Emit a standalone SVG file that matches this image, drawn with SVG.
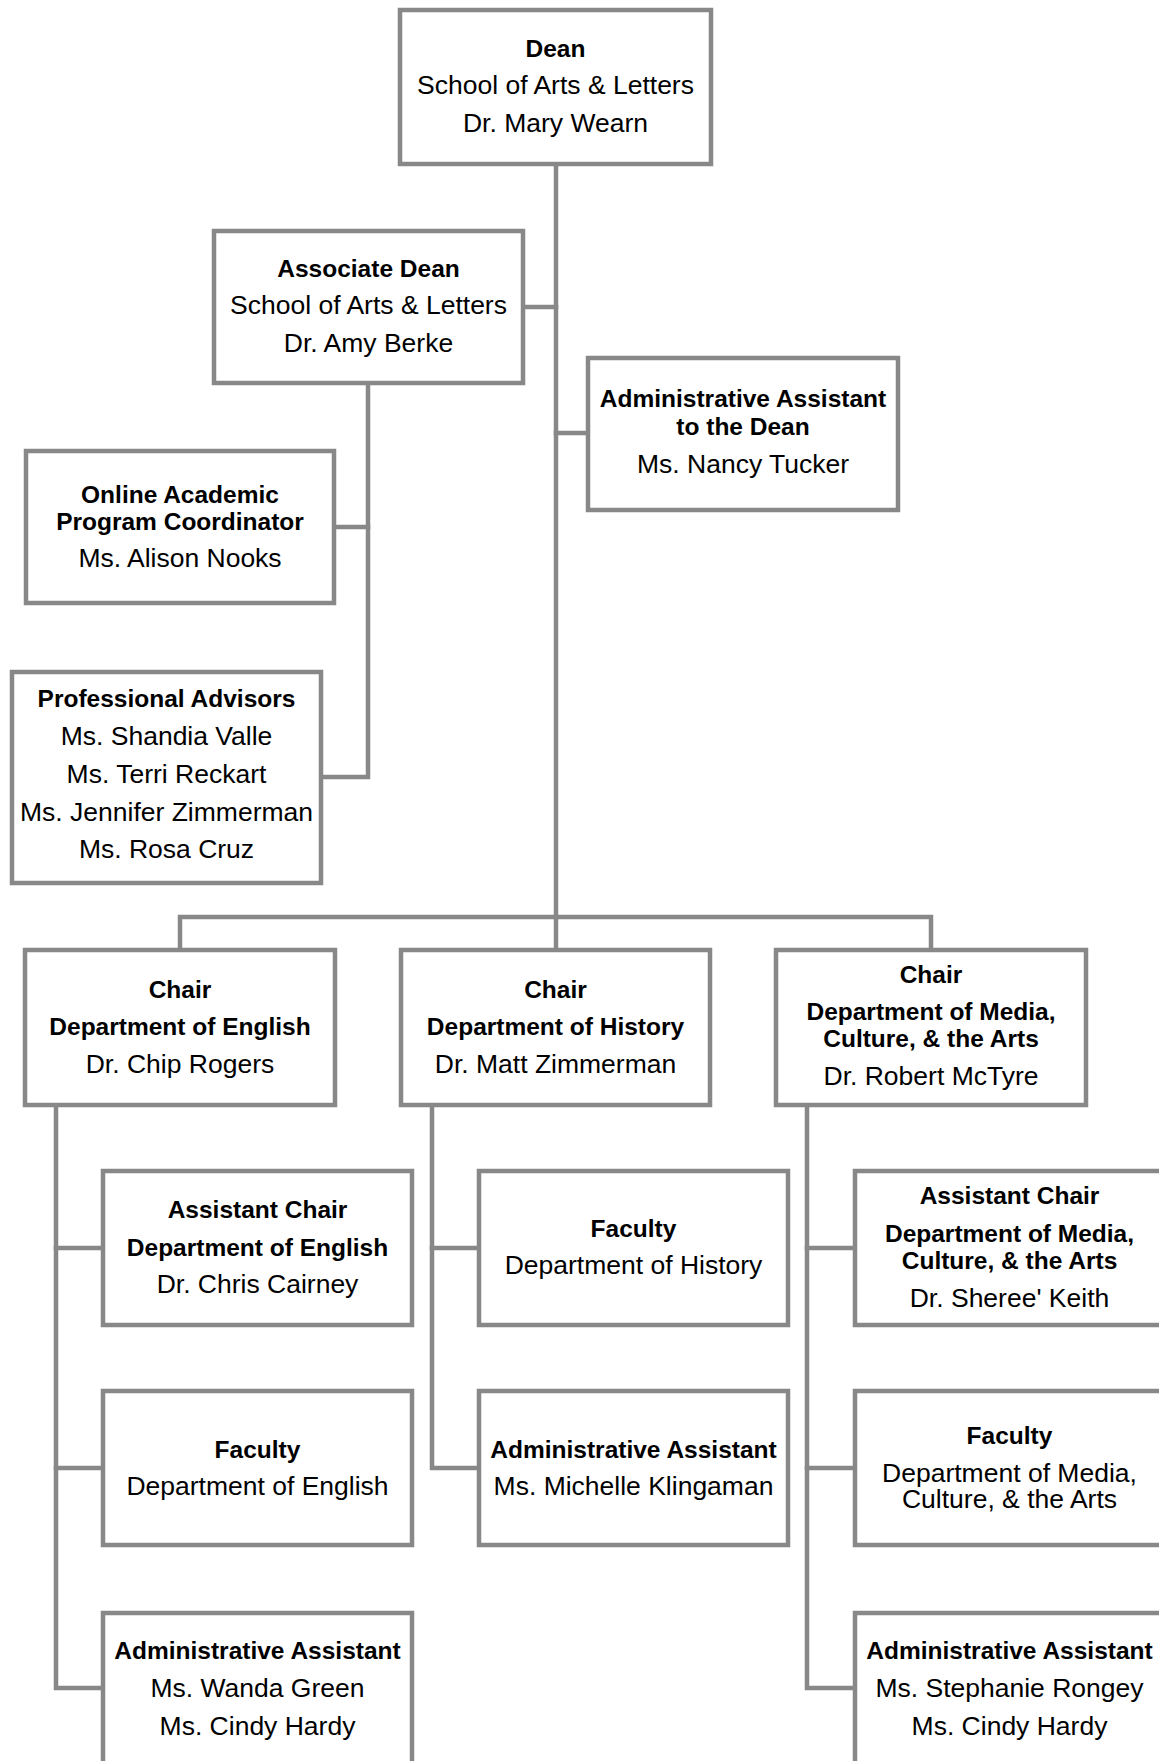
<svg xmlns="http://www.w3.org/2000/svg" width="1159" height="1761" viewBox="0 0 1159 1761">
<style>
.box{fill:#fff;stroke:#888;stroke-width:4.5}
.con{fill:none;stroke:#888;stroke-width:4.5;stroke-linejoin:miter;stroke-linecap:square}
text{font-family:"Liberation Sans",Arial,sans-serif;fill:#000;text-anchor:middle}
.b{font-weight:bold;font-size:24.5px}
.n{font-size:26.5px}
</style>
<rect width="1159" height="1761" fill="#fff"/>
<g id="connectors">
<path class="con" d="M556 166V917"/>
<path class="con" d="M525 307H556"/>
<path class="con" d="M556 433H586"/>
<path class="con" d="M368 385V777H323"/>
<path class="con" d="M336 527H368"/>
<path class="con" d="M180 948V917H931V948"/>
<path class="con" d="M556 917V948"/>
<path class="con" d="M56 1107V1688H101"/>
<path class="con" d="M56 1248H101M56 1468H101"/>
<path class="con" d="M432 1107V1468H477"/>
<path class="con" d="M432 1248H477"/>
<path class="con" d="M807 1107V1688H853"/>
<path class="con" d="M807 1248H853M807 1468H853"/>
</g>
<g id="dean">
<rect class="box" x="400" y="10" width="311" height="154"/>
<text x="555.5" y="57" class="b">Dean</text>
<text x="555.5" y="94" class="n">School of Arts &amp; Letters</text>
<text x="555.5" y="132" class="n">Dr. Mary Wearn</text>
</g>
<g id="assoc-dean">
<rect class="box" x="214" y="231" width="309" height="152"/>
<text x="368.5" y="277" class="b">Associate Dean</text>
<text x="368.5" y="314" class="n">School of Arts &amp; Letters</text>
<text x="368.5" y="352" class="n">Dr. Amy Berke</text>
</g>
<g id="admin-dean">
<rect class="box" x="588" y="358" width="310" height="152"/>
<text x="743" y="407" class="b">Administrative Assistant</text>
<text x="743" y="435" class="b">to the Dean</text>
<text x="743" y="473" class="n">Ms. Nancy Tucker</text>
</g>
<g id="online">
<rect class="box" x="26" y="451" width="308" height="152"/>
<text x="180" y="503" class="b">Online Academic</text>
<text x="180" y="530" class="b">Program Coordinator</text>
<text x="180" y="567" class="n">Ms. Alison Nooks</text>
</g>
<g id="advisors">
<rect class="box" x="12" y="672" width="309" height="211"/>
<text x="166.5" y="707" class="b">Professional Advisors</text>
<text x="166.5" y="745" class="n">Ms. Shandia Valle</text>
<text x="166.5" y="783" class="n">Ms. Terri Reckart</text>
<text x="166.5" y="821" class="n">Ms. Jennifer Zimmerman</text>
<text x="166.5" y="858" class="n">Ms. Rosa Cruz</text>
</g>
<g id="chair-english">
<rect class="box" x="25" y="950" width="310" height="155"/>
<text x="180" y="998" class="b">Chair</text>
<text x="180" y="1035" class="b">Department of English</text>
<text x="180" y="1073" class="n">Dr. Chip Rogers</text>
</g>
<g id="chair-history">
<rect class="box" x="401" y="950" width="309" height="155"/>
<text x="555.5" y="998" class="b">Chair</text>
<text x="555.5" y="1035" class="b">Department of History</text>
<text x="555.5" y="1073" class="n">Dr. Matt Zimmerman</text>
</g>
<g id="chair-media">
<rect class="box" x="776" y="950" width="310" height="155"/>
<text x="931" y="983" class="b">Chair</text>
<text x="931" y="1020" class="b">Department of Media,</text>
<text x="931" y="1047" class="b">Culture, &amp; the Arts</text>
<text x="931" y="1085" class="n">Dr. Robert McTyre</text>
</g>
<g id="asst-chair-english">
<rect class="box" x="103" y="1171" width="309" height="154"/>
<text x="257.5" y="1218" class="b">Assistant Chair</text>
<text x="257.5" y="1256" class="b">Department of English</text>
<text x="257.5" y="1293" class="n">Dr. Chris Cairney</text>
</g>
<g id="faculty-english">
<rect class="box" x="103" y="1391" width="309" height="154"/>
<text x="257.5" y="1458" class="b">Faculty</text>
<text x="257.5" y="1495" class="n">Department of English</text>
</g>
<g id="admin-english">
<rect class="box" x="103" y="1613" width="309" height="154"/>
<text x="257.5" y="1659" class="b">Administrative Assistant</text>
<text x="257.5" y="1697" class="n">Ms. Wanda Green</text>
<text x="257.5" y="1735" class="n">Ms. Cindy Hardy</text>
</g>
<g id="faculty-history">
<rect class="box" x="479" y="1171" width="309" height="154"/>
<text x="633.5" y="1237" class="b">Faculty</text>
<text x="633.5" y="1274" class="n">Department of History</text>
</g>
<g id="admin-history">
<rect class="box" x="479" y="1391" width="309" height="154"/>
<text x="633.5" y="1458" class="b">Administrative Assistant</text>
<text x="633.5" y="1495" class="n">Ms. Michelle Klingaman</text>
</g>
<g id="asst-chair-media">
<rect class="box" x="855" y="1171" width="309" height="154"/>
<text x="1009.5" y="1204" class="b">Assistant Chair</text>
<text x="1009.5" y="1242" class="b">Department of Media,</text>
<text x="1009.5" y="1269" class="b">Culture, &amp; the Arts</text>
<text x="1009.5" y="1307" class="n">Dr. Sheree' Keith</text>
</g>
<g id="faculty-media">
<rect class="box" x="855" y="1391" width="309" height="154"/>
<text x="1009.5" y="1444" class="b">Faculty</text>
<text x="1009.5" y="1482" class="n">Department of Media,</text>
<text x="1009.5" y="1508" class="n">Culture, &amp; the Arts</text>
</g>
<g id="admin-media">
<rect class="box" x="855" y="1613" width="309" height="154"/>
<text x="1009.5" y="1659" class="b">Administrative Assistant</text>
<text x="1009.5" y="1697" class="n">Ms. Stephanie Rongey</text>
<text x="1009.5" y="1735" class="n">Ms. Cindy Hardy</text>
</g>
</svg>
